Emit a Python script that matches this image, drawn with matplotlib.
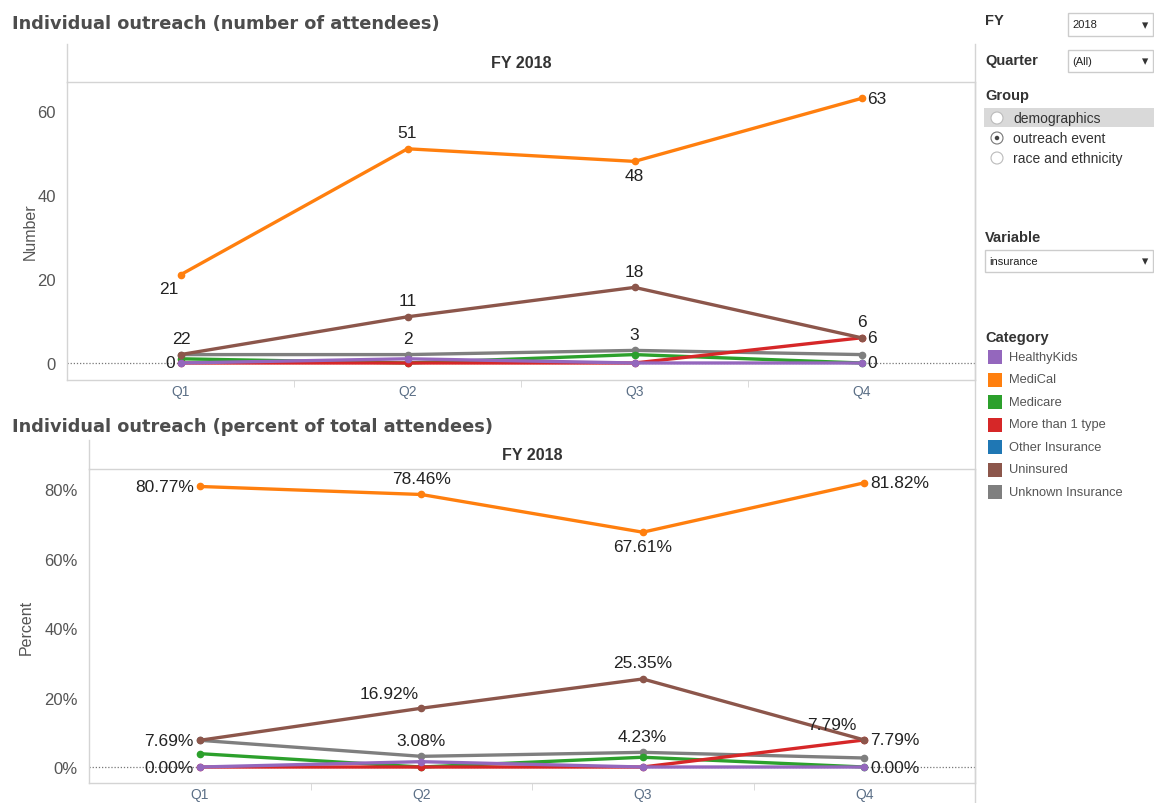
import numpy as np
import matplotlib
matplotlib.use('Agg')
import matplotlib.pyplot as plt
import matplotlib.patches as mpatches
from matplotlib.lines import Line2D

W, H = 1154, 804

quarters = ['Q1', 'Q2', 'Q3', 'Q4']
categories = ['HealthyKids', 'MediCal', 'Medicare', 'More than 1 type',
              'Other Insurance', 'Uninsured', 'Unknown Insurance']
colors = ['#9467bd', '#ff7f0e', '#2ca02c', '#d62728',
          '#1f77b4', '#8c564b', '#7f7f7f']

# number of attendees per quarter
healthykids = [0, 1, 0, 0]
medical = [21, 51, 48, 63]
medicare = [1, 0, 2, 0]
more_than_one = [0, 0, 0, 6]
other_ins = [np.nan, np.nan, np.nan, np.nan]   # no attendees in this category
uninsured = [2, 11, 18, 6]
unknown_ins = [2, 2, 3, 2]

counts = {'HealthyKids': healthykids, 'MediCal': medical, 'Medicare': medicare,
          'More than 1 type': more_than_one, 'Other Insurance': other_ins,
          'Uninsured': uninsured, 'Unknown Insurance': unknown_ins}

totals = np.nansum(np.array([counts[c] for c in categories], dtype=float), axis=0)
percents = {c: list(np.array(counts[c], dtype=float) / totals * 100) for c in categories}

# which points carry a value label, and where
top_labels = [('MediCal', 0, 'below_l'), ('MediCal', 1, 'above'), ('MediCal', 2, 'below'),
              ('MediCal', 3, 'right'),
              ('Unknown Insurance', 0, 'above_l'), ('Uninsured', 0, 'above_r'),
              ('Uninsured', 1, 'above'), ('Uninsured', 2, 'above'), ('Uninsured', 3, 'above'),
              ('Unknown Insurance', 1, 'above'), ('Unknown Insurance', 2, 'above'),
              ('More than 1 type', 0, 'left'), ('More than 1 type', 3, 'right'),
              ('HealthyKids', 3, 'right')]
bot_labels = [('MediCal', 0, 'left'), ('MediCal', 1, 'above'), ('MediCal', 2, 'below'),
              ('MediCal', 3, 'right'),
              ('Uninsured', 0, 'left'), ('Uninsured', 1, 'above_ll'), ('Uninsured', 2, 'above'),
              ('Uninsured', 3, 'above_ll'),
              ('Unknown Insurance', 1, 'above'), ('Unknown Insurance', 2, 'above'),
              ('More than 1 type', 0, 'left'), ('More than 1 type', 3, 'right'),
              ('HealthyKids', 3, 'right')]

placements = {'above': (0, 16, 'center'), 'below': (0, -14, 'center'),
              'below_l': (-12, -14, 'center'), 'above_l': (-4, 16, 'center'),
              'above_r': (4, 16, 'center'), 'above_ll': (-32, 15, 'center'),
              'left': (-6, 0, 'right'), 'right': (6, 0, 'left')}

draw_order = ['Other Insurance', 'Unknown Insurance', 'Medicare', 'More than 1 type',
              'HealthyKids', 'Uninsured', 'MediCal']

LBL_FONT = 'Liberation Sans'
GRID = '#d4d4d4'
TXT = '#555555'


def fx(x):
    return x / W


def fy(y):
    return 1 - y / H


def make_panel(fig, left, right, top, bottom, band_top, ylim, yticks, yfmt, ylabel, lpad,
               data, labels, lblfmt, title, title_y):
    ax = fig.add_axes([fx(left), fy(bottom), (right - left) / W, (bottom - top) / H])
    x = np.arange(len(quarters))
    for c in draw_order:
        col = colors[categories.index(c)]
        ax.plot(x, data[c], color=col, lw=2.4, marker='o', ms=4.5,
                solid_capstyle='round', zorder=3)
    ax.axhline(0, color='#777777', lw=0.9, ls=(0, (1, 1.5)), zorder=1)
    for c, i, pos in labels:
        dx, dy, ha = placements[pos]
        ax.annotate(lblfmt(data[c][i]), (x[i], data[c][i]), xytext=(dx, dy),
                    textcoords='offset pixels', ha=ha, va='center',
                    fontsize=12.5, family=LBL_FONT, color='#222222', zorder=5)
    ax.set_xlim(-0.5, 3.5)
    ax.set_ylim(*ylim)
    ax.set_xticks(x)
    ax.set_xticklabels(quarters, family=LBL_FONT, fontsize=10, color='#5b6f86')
    ax.set_xticks([0.5, 1.5, 2.5], minor=True)
    ax.tick_params(axis='x', which='major', length=0, pad=3)
    ax.tick_params(axis='x', which='minor', length=5, color=GRID, direction='out')
    ax.set_yticks(yticks)
    ax.set_yticklabels([yfmt(v) for v in yticks], family=LBL_FONT, fontsize=12, color=TXT)
    ax.tick_params(axis='y', length=0, pad=8)
    ax.set_ylabel(ylabel, family=LBL_FONT, fontsize=11.5, color=TXT, labelpad=lpad)
    for s in ax.spines.values():
        s.set_color(GRID)
        s.set_linewidth(1)
    ax.patch.set_alpha(0)
    # FY header band above the pane
    fig.add_artist(Line2D([fx(left), fx(left)], [fy(band_top), fy(top)], color=GRID, lw=1))
    fig.text(fx((left + right) / 2), fy((band_top + top) / 2), 'FY 2018', ha='center',
             va='center', family=LBL_FONT, fontweight='bold', fontsize=11.5, color='#333333')
    fig.text(fx(12), fy(title_y), title, ha='left', va='center', fontsize=12.8,
             fontweight='bold', color='#4d4d4d')
    return ax


fig = plt.figure(figsize=(W / 100, H / 100), dpi=100)
fig.patch.set_facecolor('white')

make_panel(fig, 67, 975, 83, 381, 45, (-4.05, 66.9), [0, 20, 40, 60],
           lambda v: '%d' % v, 'Number', 0, counts, top_labels,
           lambda v: '%d' % v, 'Individual outreach (number of attendees)', 24)
make_panel(fig, 89, 975, 470, 784, 441, (-4.6, 85.8), [0, 20, 40, 60, 80],
           lambda v: '%d%%' % v, 'Percent', 8, percents, bot_labels,
           lambda v: '%.2f%%' % v, 'Individual outreach (percent of total attendees)', 427)

# right-hand filter / legend panel
fig.add_artist(Line2D([fx(975), fx(975)], [fy(45), fy(804)], color=GRID, lw=1))
HDR = dict(fontsize=10.5, fontweight='bold', color='#333333', family=LBL_FONT,
           va='center', ha='left')
fig.text(fx(985), fy(21), 'FY', **HDR)
fig.text(fx(985), fy(61), 'Quarter', **HDR)
fig.text(fx(985), fy(96), 'Group', **HDR)
fig.text(fx(985), fy(238), 'Variable', **HDR)
fig.text(fx(985), fy(338), 'Category', **HDR)


def dropdown(x0, y0, x1, y1, label):
    fig.add_artist(mpatches.Rectangle((fx(x0), fy(y1)), (x1 - x0) / W, (y1 - y0) / H,
                                      facecolor='white', edgecolor='#cccccc', lw=1))
    fig.text(fx(x0 + 4), fy((y0 + y1) / 2), label, fontsize=8, family=LBL_FONT,
             color='#222222', va='center', ha='left')
    fig.text(fx(x1 - 8), fy((y0 + y1) / 2), '\u25be', fontsize=9, color='#333333',
             va='center', ha='center')


dropdown(1068, 14, 1153, 37, '2018')
dropdown(1068, 51, 1153, 73, '(All)')
dropdown(985, 251, 1153, 273, 'insurance')

fig.add_artist(mpatches.Rectangle((fx(984), fy(128)), 170 / W, 19 / H,
                                  facecolor='#d9d9d9', edgecolor='none'))
group_opts = ['demographics', 'outreach event', 'race and ethnicity']
for k, opt in enumerate(group_opts):
    yy = 119 + k * 20
    fig.add_artist(mpatches.Ellipse((fx(997), fy(yy)), 12 / W, 12 / H, facecolor='white',
                                    edgecolor='#bbbbbb' if k != 1 else '#777777', lw=0.8))
    if k == 1:
        fig.add_artist(mpatches.Ellipse((fx(997), fy(yy)), 4.5 / W, 4.5 / H,
                                        facecolor='#444444', edgecolor='none'))
    fig.text(fx(1013), fy(yy), opt, fontsize=10, family=LBL_FONT, color='#333333',
             va='center', ha='left')

for k, (c, col) in enumerate(zip(categories, colors)):
    yy = 358 + k * 22.5
    fig.add_artist(mpatches.Rectangle((fx(988), fy(yy + 7)), 14 / W, 14 / H,
                                      facecolor=col, edgecolor='none'))
    fig.text(fx(1009), fy(yy), c, fontsize=9.3, family=LBL_FONT, color=TXT,
             va='center', ha='left')

plt.savefig('out.png', dpi=100)
